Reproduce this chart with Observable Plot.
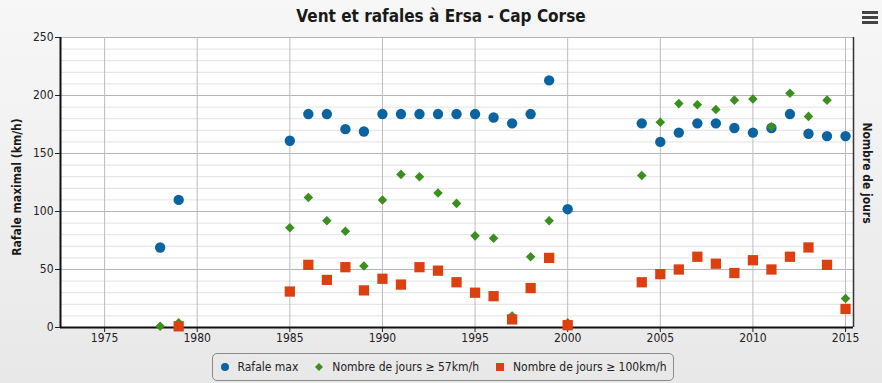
<!DOCTYPE html>
<html><head><meta charset="utf-8">
<script src="https://cdn.jsdelivr.net/npm/d3@7"></script>
<script src="https://cdn.jsdelivr.net/npm/@observablehq/plot@0.6"></script>
<style>
body{margin:0;}
#wrap{position:relative;width:882px;height:383px;overflow:hidden;background:linear-gradient(to bottom,#f7f7f7,#e8e8e8);font-family:"Liberation Sans",sans-serif;color:#222;}
#title{position:absolute;top:6px;left:0;width:882px;text-align:center;font:bold 17px "DejaVu Sans Condensed","Liberation Sans",sans-serif;color:#1a1a1a;}
#chart{position:absolute;left:0;top:28px;}
.axt{position:absolute;font:bold 12px "DejaVu Sans Condensed","Liberation Sans",sans-serif;color:#1a1a1a;white-space:nowrap;}
#ylab{left:17px;top:187px;transform:translate(-50%,-50%) rotate(-90deg);}
#rlab{left:867px;top:173px;transform:translate(-50%,-50%) rotate(90deg);}
#legend{position:absolute;left:212px;top:353px;width:462px;height:28px;border:1px solid #8a8a8a;border-radius:5px;box-sizing:border-box;display:flex;align-items:center;justify-content:center;gap:16px;font:12px "DejaVu Sans Condensed","Liberation Sans",sans-serif;color:#222;white-space:nowrap;}
#legend span.it{display:flex;align-items:center;gap:8px;flex:none;}
#menu{position:absolute;left:858px;top:7px;width:24px;height:23px;background:#f6f6f6;}
#menu i{position:absolute;left:4px;width:16px;height:3px;background:#444;}
</style></head>
<body>
<div id="wrap">
  <div id="title">Vent et rafales à Ersa - Cap Corse</div>
  <div id="menu"><i style="top:4px"></i><i style="top:9px"></i><i style="top:14px"></i></div>
  <div id="chart"></div>
  <div class="axt" id="ylab">Rafale maximal (km/h)</div>
  <div class="axt" id="rlab">Nombre de jours</div>
  <div id="legend"></div>
</div>
<script>
const years = [1978,1979,1985,1986,1987,1988,1989,1990,1991,1992,1993,1994,1995,1996,1997,1998,1999,2000,2004,2005,2006,2007,2008,2009,2010,2011,2012,2013,2014,2015];
const rafaleMax = [69,110,161,184,184,171,169,184,184,184,184,184,184,181,176,184,213,102,176,160,168,176,176,172,168,172,184,167,165,165];
const jours57 = [1,4,86,112,92,83,53,110,132,130,116,107,79,77,10,61,92,4,131,177,193,192,188,196,197,173,202,182,196,25];
const jours100 = [null,1,31,54,41,52,32,42,37,52,49,39,30,27,7,34,60,2,39,46,50,61,55,47,58,50,61,69,54,16];
const xTicks = [1975,1980,1985,1990,1995,2000,2005,2010,2015];
const yTicks = [0,50,100,150,200,250];
const seriesNames = ["Rafale max","Nombre de jours ≥ 57km/h","Nombre de jours ≥ 100km/h"];
const colors = ["#0b64a0","#3b8f1f","#dc4010"];

const xDomain = [1972.62, 2015.43];
const yMinor = d3.range(0, 251, 10);

const rows = (vals) => years.map((y, i) => ({year: y, v: vals[i]})).filter(d => d.v != null);

const plot = Plot.plot({
  width: 882, height: 318,
  marginTop: 9, marginBottom: 19, marginLeft: 60, marginRight: 29,
  style: {fontSize: "12px", fontFamily: "'DejaVu Sans Condensed','Liberation Sans',sans-serif", background: "transparent", color: "#222"},
  x: {domain: xDomain},
  y: {domain: [0, 250]},
  marks: [
    Plot.frame({fill: "white", stroke: null}),
    Plot.ruleY(yMinor, {stroke: "#e2e2e2"}),
    Plot.ruleY(yTicks.filter(d => d > 0), {stroke: "#b5b5b5"}),
    Plot.ruleX(xTicks, {stroke: "#bcbcbc"}),
    Plot.axisY({ticks: yTicks, tickSize: 5, tickPadding: 2, label: null, tickFormat: d => d}),
    Plot.axisX({ticks: xTicks, tickSize: 5, tickPadding: 1, label: null, tickFormat: d => String(d)}),
    Plot.ruleX([xDomain[1]], {stroke: "#333", strokeWidth: 1.5}),
    Plot.ruleX([xDomain[0]], {stroke: "#111", strokeWidth: 2}),
    Plot.ruleY([0], {stroke: "#111", strokeWidth: 2}),
    Plot.dot(rows(rafaleMax), {x: "year", y: "v", r: 5.2, fill: colors[0], symbol: "circle"}),
    Plot.dot(rows(jours57), {x: "year", y: "v", r: 4.3, fill: colors[1], symbol: "diamond2"}),
    Plot.dot(rows(jours100), {x: "year", y: "v", r: 5.8, fill: colors[2], symbol: "square"})
  ]
});
document.getElementById("chart").appendChild(plot);

const legend = document.getElementById("legend");
const symSvg = [
  `<svg width="10" height="10"><circle cx="5" cy="5" r="4" fill="${colors[0]}"/></svg>`,
  `<svg width="10" height="10"><path d="M5 1L9 5L5 9L1 5Z" fill="${colors[1]}"/></svg>`,
  `<svg width="10" height="10"><rect x="1" y="1" width="8" height="8" fill="${colors[2]}"/></svg>`
];
seriesNames.forEach((n, i) => {
  const s = document.createElement("span");
  s.className = "it";
  s.innerHTML = symSvg[i] + `<span>${n}</span>`;
  legend.appendChild(s);
});
</script>
</body></html>
